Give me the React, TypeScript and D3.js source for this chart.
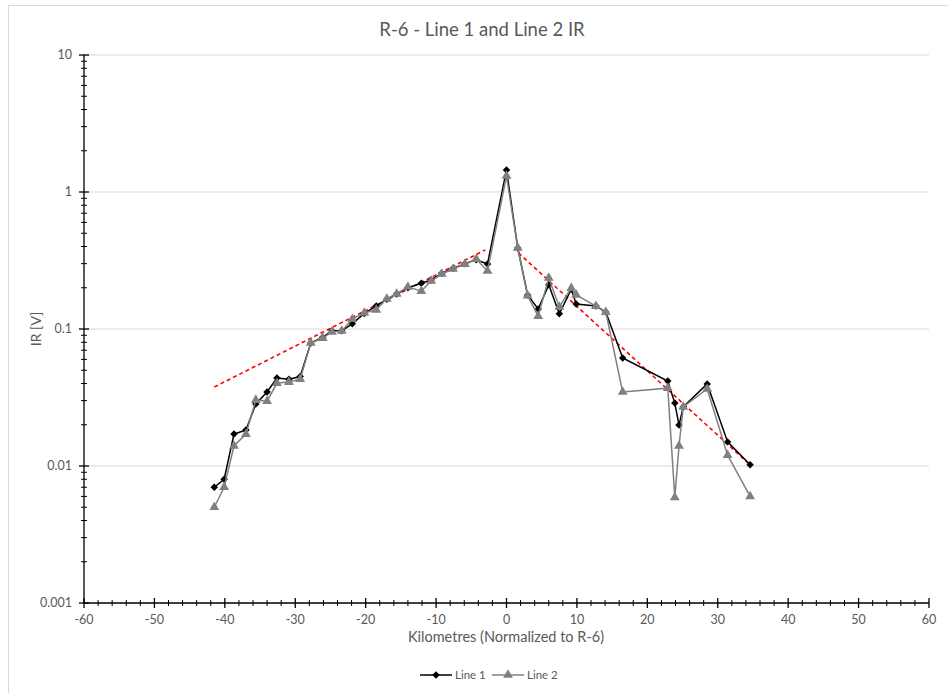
import React from 'react';
import * as d3 from 'd3';

// distance along profile, km (normalized to R-6)
const km = [-41.5, -40.1, -38.7, -37.0, -35.6, -34.0, -32.6, -30.9, -29.3, -27.8, -26.1, -24.8, -23.4, -21.9, -20.2, -18.5, -17.0, -15.6, -14.0, -12.1, -10.7, -9.2, -7.6, -5.9, -4.3, -2.7, 0, 1.6, 3.0, 4.5, 6.0, 7.5, 9.2, 9.9, 12.7, 14.1, 16.5, 22.9, 23.9, 24.5, 25.1, 28.5, 31.4, 34.6];

const line1 = [0.0070, 0.0080, 0.0171, 0.0183, 0.0284, 0.0347, 0.0439, 0.043, 0.045, 0.079, 0.087, 0.097, 0.097, 0.109, 0.13, 0.147, 0.165, 0.18, 0.2, 0.216, 0.228, 0.255, 0.277, 0.30, 0.32, 0.298, 1.45, 0.39, 0.177, 0.140, 0.21, 0.129, 0.195, 0.152, 0.147, 0.133, 0.0614, 0.0417, 0.0288, 0.0199, 0.027, 0.0397, 0.015, 0.0102];

const line2 = [0.0050, 0.0070, 0.0140, 0.0171, 0.0303, 0.0297, 0.0403, 0.041, 0.043, 0.079, 0.0859, 0.0951, 0.0967, 0.118, 0.131, 0.138, 0.166, 0.180, 0.203, 0.189, 0.224, 0.252, 0.274, 0.298, 0.324, 0.265, 1.31, 0.39, 0.175, 0.124, 0.236, 0.145, 0.199, 0.177, 0.147, 0.133, 0.0347, 0.037, 0.0059, 0.014, 0.027, 0.0365, 0.012, 0.0060];

// red dashed trend lines (end points)
const trendWestKm = [-41.5, -3.0];
const trendWestIR = [0.0377, 0.378];
const trendEastKm = [1.7, 34.6];
const trendEastIR = [0.359, 0.0102];

const xTicks = [-60, -50, -40, -30, -20, -10, 0, 10, 20, 30, 40, 50, 60];
const yTicks = [0.001, 0.01, 0.1, 1, 10];
const yTickLabels = ['0.001', '0.01', '0.1', '1', '10'];

const W = 948, H = 693;
const left = 84, right = 929, top = 55, bottom = 603;
const font = 'Lato, "Open Sans", sans-serif';
const grey = '#595959';

function App() {
  const x = d3.scaleLinear().domain([-60, 60]).range([left, right]);
  const y = d3.scaleLog().domain([0.001, 10]).range([bottom, top]);

  const line = d3.line<[number, number]>().x(d => x(d[0])).y(d => y(d[1]));
  const pts1: [number, number][] = km.map((k, i) => [k, line1[i]]);
  const pts2: [number, number][] = km.map((k, i) => [k, line2[i]]);
  const west: [number, number][] = trendWestKm.map((k, i) => [k, trendWestIR[i]]);
  const east: [number, number][] = trendEastKm.map((k, i) => [k, trendEastIR[i]]);

  // excel-like diamond = square turned 45deg
  const diamond = d3.symbol().type(d3.symbolSquare).size(28)();
  const triangle = d3.symbol().type(d3.symbolTriangle).size(42)();

  // minor ticks
  const xMinor = d3.range(-60, 61, 2).filter(v => v % 10 !== 0);
  const yMinor: number[] = [];
  [0.001, 0.01, 0.1, 1].forEach(d => { for (let m = 2; m <= 9; m++) yMinor.push(d * m); });

  return (
    <svg width={W} height={H} style={{ position: 'absolute', left: 0, top: 0, background: '#fff' }}>
      <rect x={8.5} y={5.5} width={W} height={H} fill="#fff" stroke="#d9d9d9" />

      <text x={482} y={36} textAnchor="middle" fontFamily={font} fontSize={18.5} fill={grey}>R-6 - Line 1 and Line 2 IR</text>

      {/* gridlines */}
      {yTicks.slice(1).map(t => (
        <line key={t} x1={left} x2={right} y1={y(t)} y2={y(t)} stroke="#d9d9d9" strokeWidth={1} />
      ))}

      {/* trend lines */}
      <path d={line(west) || ''} fill="none" stroke="#ff0000" strokeWidth={1.6} strokeDasharray="4,3" />
      <path d={line(east) || ''} fill="none" stroke="#ff0000" strokeWidth={1.6} strokeDasharray="4,3" />

      {/* series */}
      <path d={line(pts1) || ''} fill="none" stroke="#000" strokeWidth={1.5} />
      {pts1.map((p, i) => (
        <path key={'d' + i} d={diamond || ''} transform={`translate(${x(p[0])},${y(p[1])}) rotate(45)`} fill="#000" />
      ))}
      <path d={line(pts2) || ''} fill="none" stroke="#808080" strokeWidth={1.5} />
      {pts2.map((p, i) => (
        <path key={'t' + i} d={triangle || ''} transform={`translate(${x(p[0])},${y(p[1])})`} fill="#808080" />
      ))}

      {/* axes */}
      <line x1={left} x2={left} y1={top} y2={bottom} stroke="#000" strokeWidth={1.3} />
      <line x1={left} x2={right} y1={bottom} y2={bottom} stroke="#000" strokeWidth={1.3} />
      {yTicks.map(t => (
        <line key={'ym' + t} x1={left - 5} x2={left + 5} y1={y(t)} y2={y(t)} stroke="#000" strokeWidth={1.3} />
      ))}
      {yMinor.map(t => (
        <line key={'yn' + t} x1={left - 3} x2={left + 3} y1={y(t)} y2={y(t)} stroke="#000" strokeWidth={1} />
      ))}
      {xTicks.map(t => (
        <line key={'xm' + t} x1={x(t)} x2={x(t)} y1={bottom - 5} y2={bottom + 5} stroke="#000" strokeWidth={1.3} />
      ))}
      {xMinor.map(t => (
        <line key={'xn' + t} x1={x(t)} x2={x(t)} y1={bottom - 3} y2={bottom + 3} stroke="#000" strokeWidth={1} />
      ))}

      {yTicks.map((t, i) => (
        <text key={'yl' + t} x={left - 12} y={y(t) + 4} textAnchor="end" fontFamily={font} fontSize={12.5} fill={grey}>{yTickLabels[i]}</text>
      ))}
      {xTicks.map(t => (
        <text key={'xl' + t} x={x(t)} y={bottom + 21} textAnchor="middle" fontFamily={font} fontSize={12.5} fill={grey}>{t}</text>
      ))}

      <text x={506} y={642} textAnchor="middle" fontFamily={font} fontSize={14.5} fill={grey}>Kilometres (Normalized to R-6)</text>
      <text transform={`translate(41,${(top + bottom) / 2}) rotate(-90)`} textAnchor="middle" fontFamily={font} fontSize={14} fill={grey}>IR [V]</text>

      {/* legend */}
      <g transform="translate(420,675)">
        <line x1={0} x2={32} y1={0} y2={0} stroke="#000" strokeWidth={1.5} />
        <path d={diamond || ''} transform="translate(16,0) rotate(45)" fill="#000" />
        <text x={35} y={4} fontFamily={font} fontSize={11.5} fill={grey}>Line 1</text>
        <line x1={72} x2={104} y1={0} y2={0} stroke="#808080" strokeWidth={1.5} />
        <path d={triangle || ''} transform="translate(88,0)" fill="#808080" />
        <text x={107} y={4} fontFamily={font} fontSize={11.5} fill={grey}>Line 2</text>
      </g>
    </svg>
  );
}

export default App;
